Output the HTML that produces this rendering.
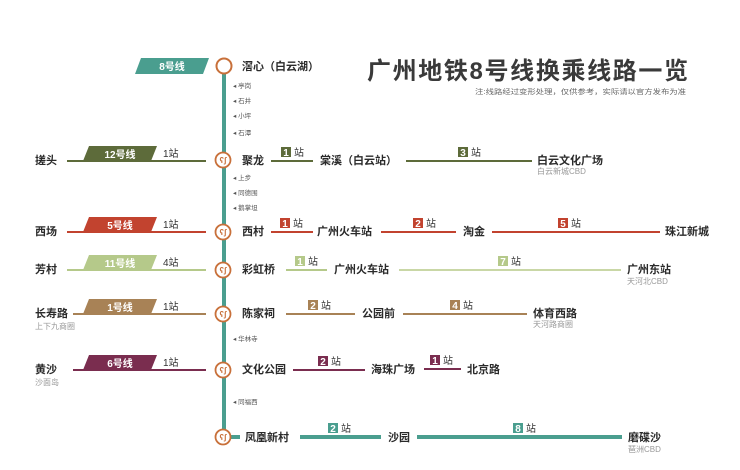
<!DOCTYPE html>
<html><head><meta charset="utf-8"><style>
html,body{margin:0;padding:0;background:#fff;}
svg{display:block;font-family:"Liberation Sans","Noto Sans CJK SC",sans-serif;}
.s{font-size:11px;font-weight:bold;fill:#2a2a2a;}
.m{font-size:6.5px;fill:#555;}
.g{font-size:8px;fill:#999;}
.b{font-size:10px;font-weight:bold;fill:#fff;}
.z{font-size:10px;fill:#333;}
</style></head><body>
<svg width="740" height="470" viewBox="0 0 740 470">
<rect width="740" height="470" fill="#fff"/>
<!-- title -->
<text x="367" y="79" font-size="24" font-weight="bold" fill="#3a3a3a" textLength="321" lengthAdjust="spacing">广州地铁8号线换乘线路一览</text>
<text x="475" y="94" font-size="7" fill="#666" textLength="211" lengthAdjust="spacingAndGlyphs">注:线路经过变形处理，仅供参考，实际请以官方发布为准</text>

<!-- main line -->
<line x1="224" y1="67" x2="224" y2="437" stroke="#4a9e8f" stroke-width="4"/>
<polygon points="141,58 209,58 203,74 135,74" fill="#4a9e8f"/>
<text x="172" y="70" text-anchor="middle" class="b">8号线</text>
<circle cx="224" cy="66" r="7.5" fill="#fff" stroke="#c8703a" stroke-width="2"/>
<text x="242" y="70" class="s">滘心（白云湖）</text>

<!-- small stations -->
<g class="m">
<text x="233" y="88">◂ 亭岗</text><text x="233" y="103">◂ 石井</text><text x="233" y="118">◂ 小坪</text><text x="233" y="135">◂ 石潭</text>
<text x="233" y="180">◂ 上步</text><text x="233" y="195">◂ 同德围</text><text x="233" y="210">◂ 鹅掌坦</text>
<text x="233" y="341">◂ 华林寺</text><text x="233" y="404">◂ 同福西</text>
</g>

<!-- Row 1: line 12 -->
<g>
<line x1="67" y1="161" x2="206" y2="161" stroke="#5d6b3a" stroke-width="2"/>
<polygon points="89,146 157,146 151,161 83,161" fill="#5d6b3a"/>
<text x="120" y="158" text-anchor="middle" class="b">12号线</text>
<text x="163" y="157" class="z">1站</text>
<text x="35" y="164" class="s">搓头</text>
<text x="242" y="164" class="s">聚龙</text>
<line x1="271" y1="161" x2="313" y2="161" stroke="#5d6b3a" stroke-width="2"/>
<rect x="281" y="147" width="10" height="10" fill="#5d6b3a"/><text x="286" y="156" text-anchor="middle" class="b" font-size="9">1</text><text x="294" y="156" class="z">站</text>
<text x="320" y="164" class="s">棠溪（白云站）</text>
<line x1="406" y1="161" x2="532" y2="161" stroke="#5d6b3a" stroke-width="2"/>
<rect x="458" y="147" width="10" height="10" fill="#5d6b3a"/><text x="463" y="156" text-anchor="middle" class="b" font-size="9">3</text><text x="471" y="156" class="z">站</text>
<text x="537" y="164" class="s">白云文化广场</text>
<text x="537" y="174" class="g">白云新城CBD</text>
</g>

<!-- Row 2: line 5 -->
<g>
<line x1="67" y1="232" x2="206" y2="232" stroke="#c2432f" stroke-width="2"/>
<polygon points="89,217 157,217 151,232 83,232" fill="#c2432f"/>
<text x="120" y="229" text-anchor="middle" class="b">5号线</text>
<text x="163" y="228" class="z">1站</text>
<text x="35" y="235" class="s">西场</text>
<text x="242" y="235" class="s">西村</text>
<line x1="271" y1="232" x2="313" y2="232" stroke="#c2432f" stroke-width="2"/>
<rect x="280" y="218" width="10" height="10" fill="#c2432f"/><text x="285" y="227" text-anchor="middle" class="b" font-size="9">1</text><text x="293" y="227" class="z">站</text>
<text x="317" y="235" class="s">广州火车站</text>
<line x1="381" y1="232" x2="456" y2="232" stroke="#c2432f" stroke-width="2"/>
<rect x="413" y="218" width="10" height="10" fill="#c2432f"/><text x="418" y="227" text-anchor="middle" class="b" font-size="9">2</text><text x="426" y="227" class="z">站</text>
<text x="463" y="235" class="s">淘金</text>
<line x1="492" y1="232" x2="660" y2="232" stroke="#c2432f" stroke-width="2"/>
<rect x="558" y="218" width="10" height="10" fill="#c2432f"/><text x="563" y="227" text-anchor="middle" class="b" font-size="9">5</text><text x="571" y="227" class="z">站</text>
<text x="665" y="235" class="s">珠江新城</text>
</g>

<!-- Row 3: line 11 -->
<g>
<line x1="67" y1="270" x2="206" y2="270" stroke="#b5c98a" stroke-width="2"/>
<polygon points="89,255 157,255 151,270 83,270" fill="#b5c98a"/>
<text x="120" y="267" text-anchor="middle" class="b">11号线</text>
<text x="163" y="266" class="z">4站</text>
<text x="35" y="273" class="s">芳村</text>
<text x="242" y="273" class="s">彩虹桥</text>
<line x1="286" y1="270" x2="327" y2="270" stroke="#b5c98a" stroke-width="2"/>
<rect x="295" y="256" width="10" height="10" fill="#b5c98a"/><text x="300" y="265" text-anchor="middle" class="b" font-size="9">1</text><text x="308" y="265" class="z">站</text>
<text x="334" y="273" class="s">广州火车站</text>
<line x1="399" y1="270" x2="621" y2="270" stroke="#c9d7a6" stroke-width="2"/>
<rect x="498" y="256" width="10" height="10" fill="#b5c98a"/><text x="503" y="265" text-anchor="middle" class="b" font-size="9">7</text><text x="511" y="265" class="z">站</text>
<text x="627" y="273" class="s">广州东站</text>
<text x="627" y="284" class="g">天河北CBD</text>
</g>

<!-- Row 4: line 1 -->
<g>
<line x1="73" y1="314" x2="206" y2="314" stroke="#a88256" stroke-width="2"/>
<polygon points="89,299 157,299 151,314 83,314" fill="#a88256"/>
<text x="120" y="311" text-anchor="middle" class="b">1号线</text>
<text x="163" y="310" class="z">1站</text>
<text x="35" y="317" class="s">长寿路</text>
<text x="35" y="329" class="g">上下九商圈</text>
<text x="242" y="317" class="s">陈家祠</text>
<line x1="286" y1="314" x2="355" y2="314" stroke="#a88256" stroke-width="2"/>
<rect x="308" y="300" width="10" height="10" fill="#a88256"/><text x="313" y="309" text-anchor="middle" class="b" font-size="9">2</text><text x="321" y="309" class="z">站</text>
<text x="362" y="317" class="s">公园前</text>
<line x1="403" y1="314" x2="527" y2="314" stroke="#a88256" stroke-width="2"/>
<rect x="450" y="300" width="10" height="10" fill="#a88256"/><text x="455" y="309" text-anchor="middle" class="b" font-size="9">4</text><text x="463" y="309" class="z">站</text>
<text x="533" y="317" class="s">体育西路</text>
<text x="533" y="327" class="g">天河路商圈</text>
</g>

<!-- Row 5: line 6 -->
<g>
<line x1="73" y1="370" x2="206" y2="370" stroke="#7a2d4f" stroke-width="2"/>
<polygon points="89,355 157,355 151,370 83,370" fill="#7a2d4f"/>
<text x="120" y="367" text-anchor="middle" class="b">6号线</text>
<text x="163" y="366" class="z">1站</text>
<text x="35" y="373" class="s">黄沙</text>
<text x="35" y="385" class="g">沙面岛</text>
<text x="242" y="373" class="s">文化公园</text>
<line x1="293" y1="370" x2="365" y2="370" stroke="#7a2d4f" stroke-width="2"/>
<rect x="318" y="356" width="10" height="10" fill="#7a2d4f"/><text x="323" y="365" text-anchor="middle" class="b" font-size="9">2</text><text x="331" y="365" class="z">站</text>
<text x="371" y="373" class="s">海珠广场</text>
<line x1="424" y1="369" x2="461" y2="369" stroke="#7a2d4f" stroke-width="2"/>
<rect x="430" y="355" width="10" height="10" fill="#7a2d4f"/><text x="435" y="364" text-anchor="middle" class="b" font-size="9">1</text><text x="443" y="364" class="z">站</text>
<text x="467" y="373" class="s">北京路</text>
</g>

<!-- Row 6: line 8 -->
<g>
<line x1="230" y1="437" x2="240" y2="437" stroke="#4a9e8f" stroke-width="4"/>
<text x="245" y="441" class="s">凤凰新村</text>
<line x1="300" y1="437" x2="381" y2="437" stroke="#4a9e8f" stroke-width="4"/>
<rect x="328" y="423" width="10" height="10" fill="#4a9e8f"/><text x="333" y="432" text-anchor="middle" class="b" font-size="9">2</text><text x="341" y="432" class="z">站</text>
<text x="388" y="441" class="s">沙园</text>
<line x1="417" y1="437" x2="622" y2="437" stroke="#4a9e8f" stroke-width="4"/>
<rect x="513" y="423" width="10" height="10" fill="#4a9e8f"/><text x="518" y="432" text-anchor="middle" class="b" font-size="9">8</text><text x="526" y="432" class="z">站</text>
<text x="628" y="441" class="s">磨碟沙</text>
<text x="628" y="452" class="g">琶洲CBD</text>
</g>

<!-- interchange circles -->
<g fill="#fff" stroke="#c8703a" stroke-width="1.8">
<circle cx="223" cy="160" r="7.5"/><circle cx="223" cy="232" r="7.5"/><circle cx="223" cy="270" r="7.5"/>
<circle cx="223" cy="314" r="7.5"/><circle cx="223" cy="370" r="7.5"/><circle cx="223" cy="437" r="7.5"/>
</g>
<g fill="#c8703a" font-size="8" font-weight="bold" text-anchor="middle">
<text x="223" y="163">ʕʃ</text><text x="223" y="235">ʕʃ</text><text x="223" y="273">ʕʃ</text>
<text x="223" y="317">ʕʃ</text><text x="223" y="373">ʕʃ</text><text x="223" y="440">ʕʃ</text>
</g>
</svg>
</body></html>
